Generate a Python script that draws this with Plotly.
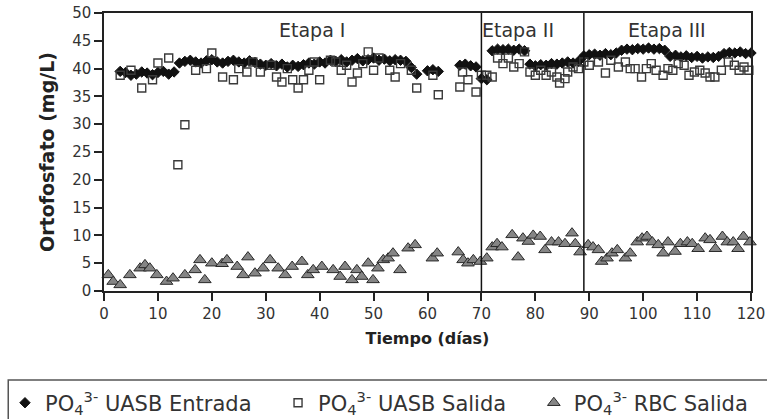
import plotly.graph_objects as go

# ---- Data ----
entrada_dias = [3, 4, 5, 6, 7, 8, 9, 10, 11, 12, 13,
                14, 15, 16, 17, 18, 19, 20, 21, 22, 23, 24, 25, 26, 27, 28, 29, 30, 31, 32, 33,
                34, 35, 36, 37, 38, 39, 40, 41, 42, 43, 44, 45, 46, 47, 48, 49, 50, 51, 52, 53,
                54, 55, 56, 57, 58, 60, 61, 62, 66, 67, 68, 69, 70, 71,
                72, 73, 74, 75, 76, 77, 78, 79, 80, 81, 82, 83, 84, 85, 86, 87, 88,
                89, 90, 91, 92, 93, 94, 95, 96, 97, 98, 99, 100, 101, 102, 103, 104,
                105, 106, 107, 108, 109, 110, 111, 112, 113, 114, 115, 116, 117, 118, 119, 120]
entrada_vals = [39.5, 39.3, 38.8, 39.0, 39.4, 39.2, 38.9, 39.3, 39.5, 39.0, 39.4,
                41.0, 41.3, 41.5, 41.2, 41.0, 41.4, 41.6, 41.2, 41.0, 41.3, 41.5, 41.2, 41.0, 41.4, 41.1, 40.8, 40.6, 40.9, 40.5, 40.8,
                40.3, 40.6, 40.4, 40.7, 41.0, 40.8, 41.2, 41.0, 41.5, 41.3, 41.6, 41.2, 41.5, 41.8, 41.4, 41.6, 41.9, 41.5, 41.7, 41.4,
                41.6, 41.5, 41.3, 40.2, 39.0, 39.6, 39.8, 39.5, 40.6, 40.8, 40.5, 40.3, 38.2, 38.0,
                43.2, 43.5, 43.4, 43.5, 43.3, 43.5, 43.2, 40.8, 40.5, 40.7, 40.6, 40.9, 40.8, 41.0, 41.2, 41.0, 41.3,
                42.3, 42.5, 42.6, 42.4, 42.7, 42.5, 42.8, 43.3, 43.5, 43.4, 43.6, 43.5, 43.7, 43.5, 43.6, 43.3,
                42.2, 42.4, 42.1, 42.3, 42.0, 42.2, 41.9, 42.1, 42.0, 42.2, 42.7, 42.9, 42.8, 43.0, 42.7, 42.8]

salida_dias = [3, 5, 7, 9, 10, 12, 13.7, 15, 17, 19, 20, 22, 24, 25, 26.5, 27.6, 29, 31, 32, 33,
               34, 35, 36, 37, 38, 39, 40, 42, 43, 44, 45, 46, 47, 48, 49, 50, 51, 53, 54, 55,
               57, 58, 61, 62, 66, 66.5, 67.5, 69, 70, 71, 72, 73, 74, 75, 76, 77, 78, 79, 80, 81,
               82, 83, 84, 84.5, 85.5, 86, 87, 88, 89, 90, 91.7, 93, 94, 95.4, 96.7, 97.6, 98.5, 99.7,
               100.6, 101.5, 102.4, 103.7, 104.6, 105.5, 106.5, 107.6, 108.5, 109.5, 110.5, 111.5,
               112.4, 113.3, 114.5, 115.8, 116.9, 117.8, 118.7, 119.6]
salida_vals = [38.8, 39.7, 36.5, 38.0, 41.0, 41.9, 22.7, 29.9, 39.7, 40.0, 42.8, 38.5, 38.0, 40.0, 39.4, 41.2, 39.4, 40.6, 38.5, 37.6,
               40.0, 38.0, 36.5, 38.0, 39.7, 41.2, 38.0, 41.5, 41.2, 39.7, 40.6, 37.6, 39.2, 40.9, 43.0, 39.7, 41.9, 39.7, 38.5, 40.9,
               39.7, 36.5, 38.8, 35.3, 36.7, 39.4, 38.0, 35.8, 38.8, 38.8, 38.5, 41.9, 40.9, 41.9, 40.3, 40.9, 43.0, 39.4, 38.8, 39.7,
               38.8, 39.4, 38.5, 37.4, 38.2, 39.4, 40.3, 40.0, 41.2, 40.6, 41.2, 39.2, 41.5, 40.3, 41.2, 40.0, 40.0, 38.5,
               40.0, 40.9, 39.7, 38.8, 40.0, 39.7, 40.9, 40.6, 38.8, 39.4, 39.7, 39.2,
               38.5, 38.5, 39.7, 41.2, 40.6, 39.7, 40.3, 39.7]

rbc_dias = [0.8, 1.7, 3.0, 4.8, 6.7, 7.6, 8.5, 9.8, 11.6, 12.8, 15.0, 16.9, 17.8, 18.7, 20.0, 21.9, 22.8, 24.7, 25.8, 26.7,
            28.0, 29.5, 30.8, 32.3, 33.6, 34.9, 36.7, 37.8, 38.8, 40.4, 42.5, 43.8, 44.7, 46.0, 46.9, 47.8, 49.0, 49.9, 50.8, 51.8,
            52.7, 53.6, 54.9, 56.4, 57.7, 60.9, 61.8, 65.7, 66.6, 67.5, 68.5, 69.8, 71.0, 72.0, 72.9, 73.8, 75.7, 76.8, 77.7, 78.7,
            79.6, 80.9, 81.8, 83.0, 84.3, 85.5, 86.8, 87.4, 88.3, 89.8, 90.7, 91.7, 92.3, 93.3, 94.2, 95.2, 96.7, 97.6, 98.9, 99.8,
            100.7, 101.7, 102.8, 103.7, 104.6, 105.9, 106.9, 108.2, 109.1, 110.2, 111.5, 112.4, 113.4, 114.7, 115.6, 116.7, 117.6, 118.6, 119.8]
rbc_vals = [2.9, 1.7, 1.1, 2.9, 4.1, 4.7, 4.1, 2.9, 1.7, 2.3, 2.9, 3.8, 5.6, 2.0, 5.0, 4.9, 5.6, 4.4, 2.9, 6.1,
            3.2, 4.1, 5.6, 4.1, 2.9, 4.4, 5.3, 2.9, 3.8, 4.4, 3.8, 2.6, 4.4, 2.0, 3.8, 2.6, 5.0, 2.0, 4.1, 5.6,
            5.9, 6.8, 3.8, 7.7, 8.3, 5.9, 6.8, 7.0, 5.6, 5.0, 5.6, 5.3, 5.9, 7.9, 8.5, 7.9, 10.1, 6.1, 9.5, 8.9,
            10.0, 9.8, 7.4, 8.8, 8.8, 8.5, 10.4, 8.5, 7.0, 8.3, 7.9, 7.4, 5.3, 5.9, 6.8, 7.4, 5.9, 6.8, 8.8, 9.5,
            9.8, 8.8, 8.3, 6.8, 8.8, 7.1, 8.5, 8.8, 8.5, 7.6, 9.5, 9.2, 7.6, 9.8, 8.8, 8.8, 7.6, 9.8, 8.8]

limites_etapa = [70, 89]
etapa_nombres = ["Etapa I", "Etapa II", "Etapa III"]
etapa_x = [38.6, 76.8, 104.5]
etapa_y = 47.0

nombres_series = ["PO<sub>4</sub><sup>3-</sup> UASB Entrada",
                  "PO<sub>4</sub><sup>3-</sup> UASB Salida",
                  "PO<sub>4</sub><sup>3-</sup> RBC Salida"]

x_ticks = list(range(0, 121, 10))
y_ticks = list(range(0, 51, 5))

FONT = "DejaVu Sans"

fig = go.Figure()
fig.add_trace(go.Scatter(x=entrada_dias, y=entrada_vals, mode="markers", name=nombres_series[0],
                         legend="legend", cliponaxis=False,
                         marker=dict(symbol="diamond", size=8, color="#111111",
                                     line=dict(color="#111111", width=1))))
fig.add_trace(go.Scatter(x=salida_dias, y=salida_vals, mode="markers", name=nombres_series[1],
                         legend="legend2", cliponaxis=False,
                         marker=dict(symbol="square-open", size=8, color="#3a3a3a",
                                     line=dict(width=1.4))))
fig.add_trace(go.Scatter(x=rbc_dias, y=rbc_vals, mode="markers", name=nombres_series[2],
                         legend="legend3", cliponaxis=False,
                         marker=dict(symbol="triangle-up", size=11, color="#858585",
                                     line=dict(color="#2a2a2a", width=1))))

for lim in limites_etapa:
    fig.add_shape(type="line", xref="x", yref="y", x0=lim, x1=lim, y0=0, y1=50,
                  line=dict(color="#111111", width=1.5))

for nombre, xe in zip(etapa_nombres, etapa_x):
    fig.add_annotation(x=xe, y=etapa_y, xref="x", yref="y", text=nombre, showarrow=False,
                       font=dict(family=FONT, size=19, color="#333333"))

# legend frame
fig.add_shape(type="rect", xref="paper", yref="paper", x0=-0.148, x1=1.04, y0=-0.32, y1=-0.52,
              line=dict(color="#555555", width=1.5), fillcolor="rgba(0,0,0,0)")

leg_common = dict(orientation="h", yanchor="middle", y=0.038, xanchor="left",
                  xref="container", yref="container",
                  bgcolor="rgba(0,0,0,0)", borderwidth=0,
                  font=dict(family=FONT, size=21, color="#333333"))
fig.update_layout(
    width=767, height=419,
    margin=dict(l=104, r=16, t=13, b=128, autoexpand=False),
    paper_bgcolor="white", plot_bgcolor="white",
    font=dict(family=FONT, color="#333333"),
    showlegend=True,
    legend=dict(x=0.0065, **leg_common),
    legend2=dict(x=0.3625, **leg_common),
    legend3=dict(x=0.696, **leg_common),
)
fig.update_xaxes(range=[0, 120], tickvals=x_ticks, ticks="outside", ticklen=8, tickwidth=1.5,
                 tickcolor="#222222", showline=True, linecolor="#222222", linewidth=1.5, mirror=True,
                 showgrid=False, zeroline=False, automargin=False, ticklabeloverflow="allow",
                 tickfont=dict(family=FONT, size=15, color="#333333"),
                 title=dict(text="<b>Tiempo (días)</b>", font=dict(family=FONT, size=16, color="#222222"),
                            standoff=11))
fig.update_yaxes(range=[0, 50], tickvals=y_ticks, ticks="outside", ticklen=8, tickwidth=1.5,
                 tickcolor="#222222", showline=True, linecolor="#222222", linewidth=1.5, mirror=True,
                 showgrid=False, zeroline=False, automargin=False, ticklabeloverflow="allow",
                 tickfont=dict(family=FONT, size=15, color="#333333"),
                 title=dict(text="<b>Ortofosfato (mg/L)</b>", font=dict(family=FONT, size=19, color="#222222"),
                            standoff=13))

# remove the default 8px page margin so the 767x419 figure fills the window exactly
fig.write_html("out.html", config={"displayModeBar": False},
               post_script="document.body.style.margin='0';document.body.style.overflow='hidden';")
